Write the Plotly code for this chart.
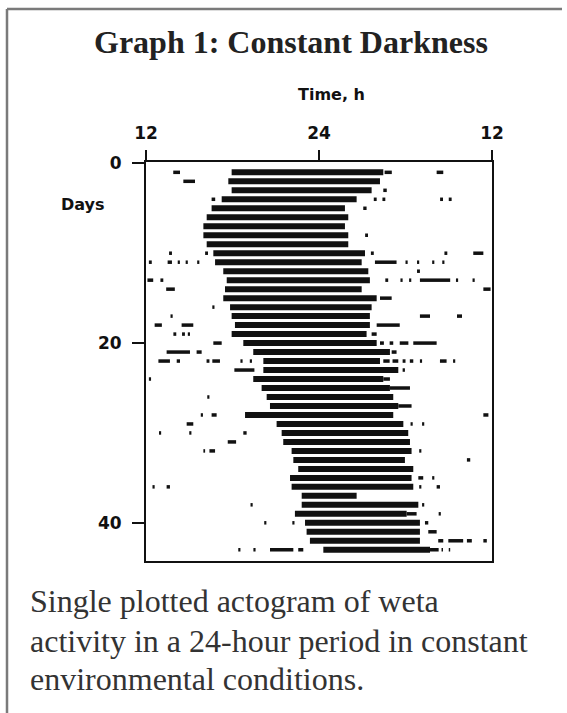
import plotly.graph_objects as go

# ---- data ----
days = list(range(1, 44))
onset = [17.94, 17.71, 17.94, 17.25, 16.55, 16.21, 15.98, 15.98, 16.21, 16.67,
         16.79, 17.36, 17.60, 17.48, 17.36, 17.83, 17.94, 18.17, 17.94, 18.75,
         19.44, 20.14, 20.14, 19.44, 20.02, 20.37, 20.60, 18.87, 21.06, 21.41,
         21.52, 22.10, 22.22, 22.56, 21.99, 22.10, 22.80, 22.80, 22.33, 23.03,
         23.14, 23.37, 24.30]
offset = [28.46, 28.23, 27.65, 26.61, 25.80, 26.03, 25.80, 26.03, 26.03, 27.19,
          26.96, 27.42, 27.53, 26.96, 28.00, 27.65, 27.53, 27.53, 27.30, 28.00,
          28.92, 28.23, 29.50, 28.46, 28.92, 29.15, 29.50, 29.15, 29.85, 30.19,
          30.31, 30.42, 29.96, 30.54, 30.42, 30.54, 26.61, 30.89, 30.08, 31.00,
          31.00, 31.00, 31.70]

# sporadic activity bouts: (day, start h, end h)
extra_day = [1, 1, 1, 2, 3, 4, 4, 4, 4, 4, 5, 8,
             10, 10, 10, 10, 10,
             11, 11, 11, 11, 11, 11, 11, 11, 11, 11, 12,
             13, 13, 13, 13, 13, 13, 13, 13,
             14, 14, 15, 16, 17, 17, 17,
             18, 18, 18, 19, 19, 19, 19,
             20, 20, 20, 20, 20, 21, 21, 21,
             22, 22, 22, 22, 22, 22, 22, 22, 22, 22, 22, 22, 22,
             23, 23, 24, 24, 25, 26, 27, 28, 28, 28,
             29, 29, 29, 30, 30, 30, 31, 32, 32, 32, 33,
             35, 35, 36, 36, 36, 36, 38, 38, 39, 39,
             40, 40, 40, 41, 42, 42, 42, 42,
             43, 43, 43, 43, 43, 43, 43]
extra_start = [13.89, 28.55, 32.16, 14.59, 28.46, 16.55, 27.80, 28.40, 32.40, 33.00, 27.07, 27.20,
               13.60, 16.10, 27.60, 32.70, 34.70,
               27.88, 12.20, 13.50, 14.20, 14.75, 15.55, 30.00, 30.80, 31.85, 32.55, 30.80,
               12.10, 13.00, 28.60, 29.65, 30.25, 31.00, 33.50, 34.65,
               13.40, 35.40, 28.23, 16.60, 13.70, 31.00, 33.57,
               12.60, 14.47, 28.00, 27.65, 13.90, 14.50, 14.90,
               28.23, 28.90, 29.60, 30.54, 16.67, 29.04, 13.43, 15.51,
               28.46, 29.10, 29.80, 30.30, 31.00, 32.39, 33.30, 12.86, 14.13, 16.20, 16.60, 18.55, 19.20,
               18.13, 29.80, 12.20, 28.46, 28.92, 16.25, 29.50, 16.55, 15.80, 35.40,
               30.35, 31.15, 14.82, 12.90, 15.00, 18.75, 17.67, 15.98, 16.40, 30.95, 34.26,
               30.89, 31.85, 30.95, 32.16, 12.45, 13.43, 31.15, 19.25, 30.08, 32.30,
               31.35, 20.20, 22.15, 31.58, 32.27, 32.97, 34.26, 35.40,
               31.70, 32.50, 33.00, 18.40, 19.45, 20.60, 22.56]
extra_end = [14.36, 29.05, 32.62, 15.40, 28.70, 16.80, 28.00, 28.60, 32.60, 33.20, 27.30, 27.40,
             13.80, 16.30, 27.80, 32.90, 35.40,
             29.38, 12.40, 13.80, 14.35, 14.90, 15.70, 30.15, 30.95, 32.00, 32.70, 31.00,
             12.50, 13.20, 28.80, 29.80, 30.40, 33.10, 33.65, 34.80,
             14.00, 35.90, 29.04, 16.75, 13.85, 31.70, 33.92,
             13.10, 15.28, 29.60, 28.00, 14.10, 14.70, 15.05,
             28.50, 29.15, 30.20, 32.16, 17.25, 29.38, 15.05, 15.86,
             28.90, 29.50, 30.00, 30.54, 31.15, 32.85, 33.45, 13.66, 14.36, 16.40, 17.13, 18.70, 19.35,
             19.52, 29.96, 12.35, 28.92, 30.31, 16.40, 30.42, 16.90, 15.95, 35.75,
             30.50, 31.30, 15.28, 13.05, 15.15, 18.98, 18.25, 16.10, 16.79, 31.10, 34.49,
             31.23, 32.00, 31.10, 32.39, 12.60, 13.66, 31.30, 19.40, 30.77, 32.45,
             31.58, 20.35, 22.30, 32.16, 32.62, 34.00, 34.60, 35.64,
             32.30, 32.60, 33.10, 18.55, 19.60, 22.22, 22.91]

x_tickvals = [12, 24, 36]
x_ticktext = ["12", "24", "12"]
y_tickvals = [0, 20, 40]

title_text = "Graph 1: Constant Darkness"
x_title = "Time, h"
y_title = "Days"
caption_lines = ["Single plotted actogram of weta",
                 "activity in a 24-hour period in constant",
                 "environmental conditions."]

# ---- build segments ----
def segs(ds, s0, s1):
    xs, ys = [], []
    for d, a, b in zip(ds, s0, s1):
        xs += [a, b, None]
        ys += [d, d, None]
    return xs, ys

bx, by = segs(days, onset, offset)
ex, ey = segs(extra_day, extra_start, extra_end)

fig = go.Figure()
fig.add_trace(go.Scatter(x=bx, y=by, mode="lines", line=dict(color="#111111", width=6),
                         hoverinfo="skip", showlegend=False))
fig.add_trace(go.Scatter(x=ex, y=ey, mode="lines", line=dict(color="#111111", width=3.5),
                         hoverinfo="skip", showlegend=False))

W, H = 567, 713
L, R, T, B = 146, 492, 162, 561
pw, ph = R - L, B - T

def px(x):
    return (x - L) / pw

def py(y):
    return (B - y) / ph

axis_font = dict(family="DejaVu Sans", size=17, color="#111111", weight="bold")

fig.update_layout(
    width=W, height=H,
    margin=dict(l=L, r=W - R, t=T, b=H - B, pad=0),
    paper_bgcolor="white", plot_bgcolor="white",
    showlegend=False,
    xaxis=dict(range=[12, 36], side="top", tickvals=x_tickvals, ticktext=x_ticktext,
               ticks="outside", ticklen=10, tickwidth=2, tickcolor="#111111",
               showline=True, linecolor="#111111", linewidth=2, mirror=True,
               showgrid=False, zeroline=False, tickfont=axis_font, ticklabelstandoff=4),
    yaxis=dict(range=[44.25, -0.15], tickvals=y_tickvals,
               ticks="outside", ticklen=12, tickwidth=2, tickcolor="#111111",
               showline=True, linecolor="#111111", linewidth=2, mirror=True,
               showgrid=False, zeroline=False, tickfont=axis_font, ticklabelstandoff=7),
)

ann = [
    dict(text=f"<b>{title_text}</b>", x=px(291), y=py(42), xanchor="center", yanchor="middle",
         font=dict(family="Liberation Serif", size=32, color="#222222")),
    dict(text=x_title, x=px(331), y=py(95), xanchor="center", yanchor="middle",
         font=dict(family="DejaVu Sans", size=16, color="#111111", weight="bold")),
    dict(text=y_title, x=px(83), y=py(204), xanchor="center", yanchor="middle",
         font=dict(family="DejaVu Sans", size=16, color="#111111", weight="bold")),
]
for i, (line, yb) in enumerate(zip(caption_lines, [601, 641, 679])):
    ann.append(dict(text=line, x=px(28), y=py(yb), xanchor="left", yanchor="middle",
                    font=dict(family="Liberation Serif", size=32, color="#333333")))
for a in ann:
    a.update(xref="paper", yref="paper", showarrow=False)
fig.update_layout(annotations=ann)

frame = dict(type="line", xref="paper", yref="paper", line=dict(color="#7a7a7a", width=2.5))
fig.update_layout(shapes=[
    dict(frame, x0=px(7), y0=py(9), x1=px(562), y1=py(9)),
    dict(frame, x0=px(7), y0=py(9), x1=px(7), y1=py(713)),
])

fig.write_html("out.html", config={"displayModeBar": False},
               post_script="document.body.style.margin='0';document.body.style.overflow='hidden';")
